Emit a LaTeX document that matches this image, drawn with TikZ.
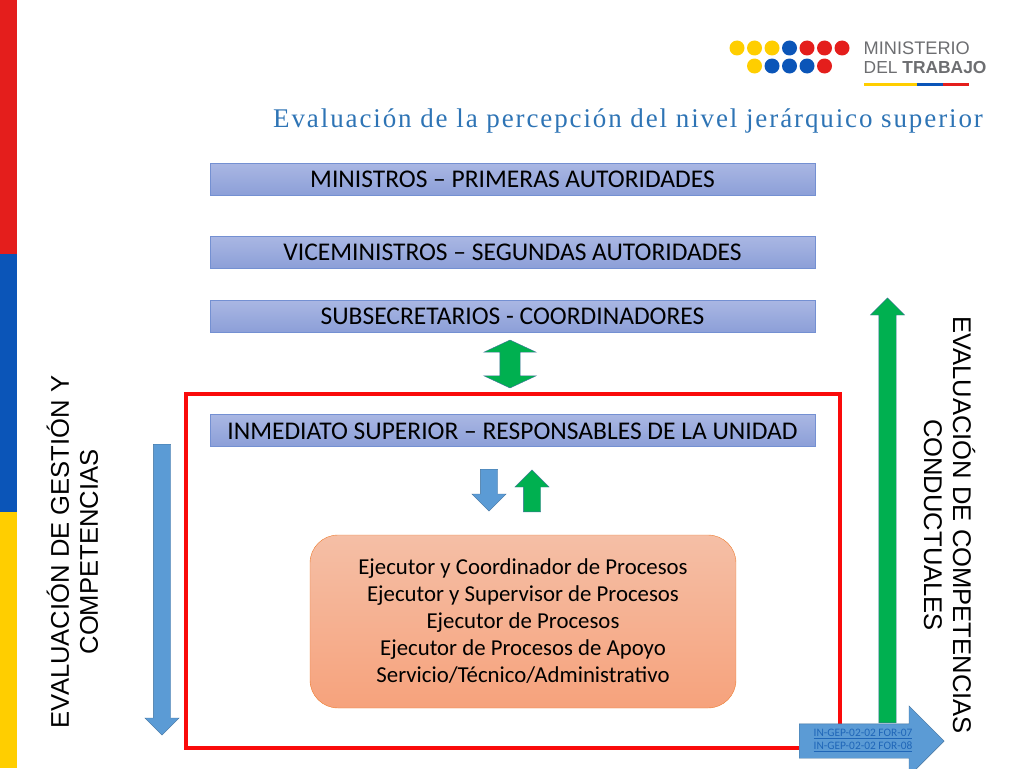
\documentclass[tikz,border=0pt]{standalone}
\usepackage{fontspec}
\setmainfont{Carlito}
\setsansfont{Liberation Sans}
\newfontfamily\titlefont[LetterSpace=7]{Liberation Serif}
\usepackage{xcolor}
\definecolor{barred}{HTML}{E41E1C}
\definecolor{barblue}{HTML}{0B55B8}
\definecolor{baryellow}{HTML}{FFCE00}
\definecolor{titleblue}{HTML}{2E74B5}
\definecolor{logogray}{HTML}{6D6E71}
\definecolor{boxedge}{HTML}{7490D2}
\definecolor{boxtop}{HTML}{AAB7E3}
\definecolor{boxbottom}{HTML}{8C9FD8}
\definecolor{peachtop}{HTML}{F5BFA6}
\definecolor{peachbottom}{HTML}{F6A27C}
\definecolor{peachedge}{HTML}{ED7D31}
\definecolor{arrowblue}{HTML}{5B9BD5}
\definecolor{arrowedge}{HTML}{41719C}
\definecolor{arrowgreen}{HTML}{00B050}
\definecolor{framered}{HTML}{FA0A0A}
\definecolor{linkblue}{HTML}{1F66B8}
\usepackage{tikz}
\usetikzlibrary{shapes.arrows}

\begin{document}
\begin{tikzpicture}[
  x=1pt, y=-1pt,
  levelbox/.style={
    draw=boxedge, top color=boxtop, bottom color=boxbottom,
    minimum width=605pt, minimum height=32pt, inner sep=0pt,
    font=\fontsize{25.5}{28}\selectfont, text=black
  },
  sidelabel/.style={
    font=\sffamily\fontsize{25.6}{29}\selectfont, align=center, text=black
  },
  longarrow/.style={
    single arrow, anchor=tail, draw=arrowedge, inner xsep=0pt, inner ysep=8.5pt,
    minimum width=34pt, single arrow head extend=8.5pt
  },
  dot/.style={circle, inner sep=0pt, minimum size=15pt}
]
  \useasboundingbox (0,0) rectangle (1024,768);
  % side bar
  \fill[barred] (0,0) rectangle (17,254);
  \fill[barblue] (0,254) rectangle (17,512);
  \fill[baryellow] (0,512) rectangle (17,768);

  % logo
  \foreach \i/\c in {0/baryellow,1/baryellow,2/baryellow,3/barblue,4/barred,5/barred,6/barred} {
    \node[dot, fill=\c] (up\i) at (737+\i*17.5,48) {};
  }
  \foreach \i/\c in {1/baryellow,2/barblue,3/barblue,4/barblue,5/barred} {
    \node[dot, fill=\c] (lo\i) at (737+\i*17.5,66) {};
  }
  \node[anchor=west, inner sep=0pt, text=logogray, font=\sffamily\fontsize{18.2}{20}\selectfont] (logoa) at (863.5,48) {MINISTERIO};
  \node[anchor=west, inner sep=0pt, text=logogray, font=\sffamily\fontsize{17.4}{20}\selectfont] (logob) at (863.5,68) {DEL \textbf{TRABAJO}};
  \fill[baryellow] (864,82.5) rectangle (917,85.5);
  \fill[barblue] (917,82.5) rectangle (943,85.5);
  \fill[barred] (943,82.5) rectangle (969,85.5);

  \node[anchor=east, inner sep=0pt, text=titleblue, font=\titlefont\fontsize{27}{29}\selectfont] (title) at (983,120.5)
    {Evaluación de la percepción del nivel jerárquico superior};

  % levels
  \node[levelbox] (ministros) at (512.5,179) {MINISTROS – PRIMERAS AUTORIDADES};
  \node[levelbox] (vice) at (512.5,252) {VICEMINISTROS – SEGUNDAS AUTORIDADES};
  \node[levelbox] (subse) at (512.5,316) {SUBSECRETARIOS - COORDINADORES};

  \draw[framered, line width=3.5pt] (186,394) rectangle (840,748);
  \node[levelbox, text depth=0pt, text height=18pt] (inmediato) at (512.5,430) {INMEDIATO SUPERIOR – RESPONSABLES DE LA UNIDAD};

  \node[double arrow, draw=arrowedge, fill=arrowgreen, inner xsep=0pt, inner ysep=10pt, rotate=90,
        minimum width=52pt, minimum height=48pt, double arrow head extend=16pt,
        double arrow tip angle=130] (both) at (510,364) {};
  \node[longarrow, fill=arrowblue, rotate=270, minimum height=42pt] (downsm) at (489,469) {};
  \node[longarrow, fill=arrowgreen, rotate=90, minimum height=42pt] (upsm) at (532,512) {};

  \node[draw=peachedge, rounded corners=28pt, top color=peachtop, bottom color=peachbottom,
        minimum width=426pt, minimum height=173pt, align=center, inner sep=0pt,
        font=\fontsize{22.8}{27}\selectfont] (grupos) at (523,621.5)
    {Ejecutor y Coordinador de Procesos\\
     Ejecutor y Supervisor de Procesos\\
     Ejecutor de Procesos\\
     Ejecutor de Procesos de Apoyo\\
     Servicio/Técnico/Administrativo};

  % side arrows
  \node[longarrow, fill=arrowblue, rotate=270, minimum height=291pt] (downlg) at (162,444) {};
  \node[longarrow, fill=arrowgreen, rotate=90, minimum height=425pt] (uplg) at (887.5,723) {};
  \node[sidelabel, rotate=90] (gestion) at (72.5,552)
    {EVALUACIÓN DE GESTIÓN Y\\COMPETENCIAS};
  \node[sidelabel, rotate=270] (conducta) at (949.5,525)
    {EVALUACIÓN DE COMPETENCIAS\\CONDUCTUALES};

  \node[single arrow, anchor=tail, draw=arrowedge, fill=arrowblue, inner xsep=0pt, inner ysep=17pt, minimum width=70pt,
        minimum height=145pt, single arrow head extend=18pt] (tag) at (799,741) {};
  \node[align=center, inner sep=0pt, text=linkblue, font=\fontsize{11.4}{13}\selectfont] (taglink) at (863,740.5)
    {\underline{IN-GEP-02-02 FOR-07}\\\underline{IN-GEP-02-02 FOR-08}};
\end{tikzpicture}
\end{document}
